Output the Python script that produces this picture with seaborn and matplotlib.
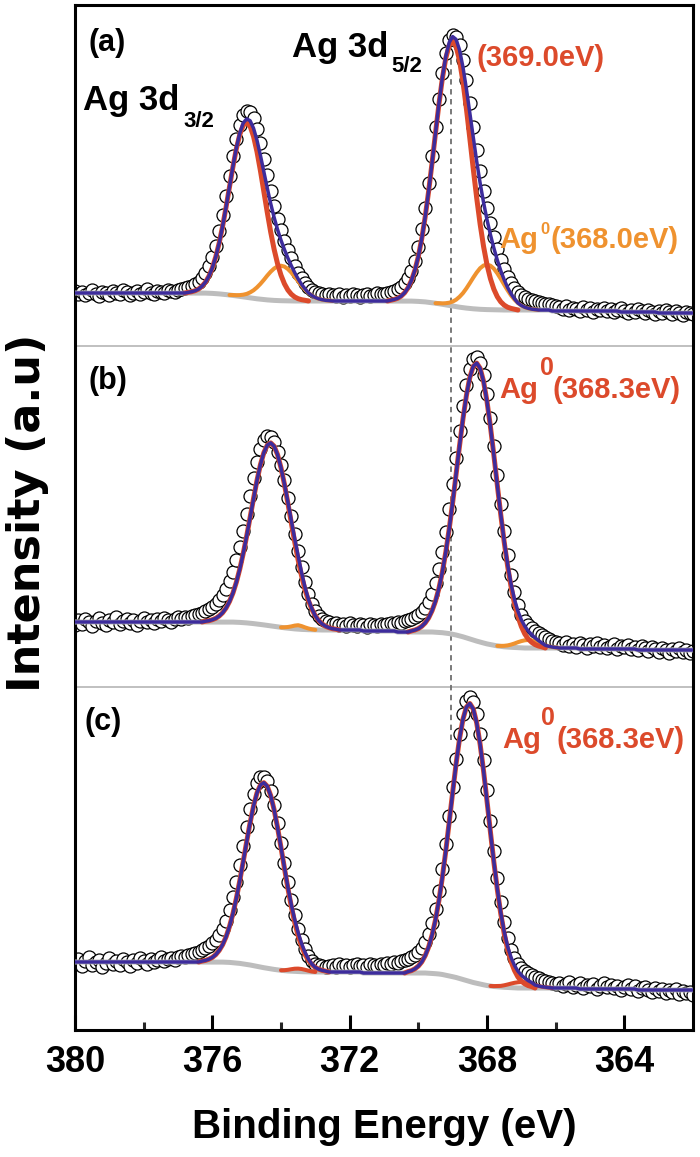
import numpy as np
import matplotlib
matplotlib.use("Agg")
import matplotlib.pyplot as plt
import seaborn as sns

# binding energy grid of the scan (0.1 eV steps)
energy = np.linspace(380.0, 362.0, 181)

# ---- panel (a) ----
bg_a = ([25] * 36
        + [25, 25, 24.9, 24.8, 24.6, 24.4, 24.1, 23.8, 23.4, 23, 22.6, 22.1, 21.6, 21.1,
           20.6, 20.1, 19.6, 19.2, 18.8, 18.4, 18.1, 17.8, 17.6, 17.4, 17.3, 17.2, 17.1, 17]
        + [17] * 33
        + [17, 16.9, 16.8, 16.6, 16.4, 16.1, 15.7, 15.3, 14.8, 14.3, 13.7, 13.1, 12.5, 11.9,
           11.3, 10.8, 10.3, 9.9, 9.5, 9.2, 8.9, 8.7, 8.5, 8.4, 8.3, 8.2, 8.1, 8]
        + [8] * 14 + [7] * 20 + [6] * 11 + [5] * 11)
red_a = ([0] * 33
         + [0.7, 1.3, 2.3, 4.0, 6.8, 10.9, 17.0, 25.5, 36.8, 51.0, 68.1, 87.5, 108.1, 128.6,
            147.2, 162.0, 171.7, 175, 171.7, 162.0, 147.2, 128.6, 108.1, 87.5, 68.1, 51.0,
            36.8, 25.5, 17.0, 10.9, 6.8, 4.0, 2.3, 1.3, 0.7]
         + [0] * 24
         + [0.8, 1.6, 2.8, 4.9, 8.2, 13.2, 20.6, 31.0, 44.9, 63.0, 85.1, 111.1, 139.9, 170.1,
            199.5, 225.9, 246.8, 260.3, 265, 260.3, 246.8, 225.9, 199.5, 170.1, 139.9, 111.1,
            85.1, 63.0, 44.9, 31.0, 20.6, 13.2, 8.2, 4.9, 2.8, 1.6, 0.8]
         + [0] * 52)
orange_a = ([0] * 46
            + [0.4, 0.7, 1.3, 2.2, 3.5, 5.5, 8.1, 11.4, 15.3, 19.7, 24.3, 28.5, 31.9, 34.2, 35,
               34.2, 31.9, 28.5, 24.3, 19.7, 15.3, 11.4, 8.1, 5.5, 3.5, 2.2, 1.3, 0.7, 0.4]
            + [0] * 31
            + [0.5, 0.9, 1.7, 2.8, 4.5, 7.0, 10.4, 14.6, 19.7, 25.4, 31.2, 36.6, 41.1, 44.0, 45,
               44.0, 41.1, 36.6, 31.2, 25.4, 19.7, 14.6, 10.4, 7.0, 4.5, 2.8, 1.7, 0.9, 0.5]
            + [0] * 46)
data_a = [27, 24, 26, 23, 25, 28, 24, 22, 26, 25, 23, 27, 25, 24, 28, 26, 23, 25, 27, 24,
          26, 29, 25, 24, 27, 26, 25, 28, 27, 26, 28,
          29, 30, 31, 32, 34, 36, 40, 45, 52, 61, 72, 87, 103, 122, 142, 162, 179, 193, 203, 207,
          206, 200, 189, 175, 159, 143, 127, 112, 99, 88, 77, 68, 60, 52, 45, 40, 35, 31, 28, 26,
          25, 24, 23, 24,
          23, 22, 24, 21, 23, 22, 24, 23, 21, 23, 24, 22, 23, 25, 24, 24, 25,
          26, 27, 29, 31, 35, 40, 47, 57, 71, 89, 110, 135, 162, 191, 219, 245, 265, 278, 283,
          281, 273, 258, 238, 215, 191, 168, 147, 127, 110, 95, 81, 69, 58, 49, 41, 35, 30, 26,
          23, 21, 19, 18, 17, 16, 15, 14, 14, 13, 12,
          11, 9, 12, 8, 10, 9, 7, 11, 8, 10, 6, 9, 8, 10, 7, 9, 6, 8, 10, 7,
          5, 8, 6, 9, 7, 5, 8, 6, 4, 7, 5, 8, 6, 4, 7, 5, 3, 6, 5, 4]

# ---- panel (b) ----
bg_b = ([33] * 44
        + [33, 33, 32.9, 32.8, 32.6, 32.4, 32.1, 31.8, 31.4, 31, 30.6, 30.1, 29.6, 29.1,
           28.6, 28.1, 27.6, 27.2, 26.8, 26.4, 26.1, 25.8, 25.6, 25.4, 25.3, 25.2, 25.1, 25]
        + [25] * 12 + [24] * 10 + [23] * 10
        + [23, 22.8, 22.6, 22.3, 21.9, 21.4, 20.7, 20, 19.1, 18.2, 17.1, 16.1, 15, 13.9,
           12.9, 12, 11.1, 10.4, 9.7, 9.1, 8.6, 8.2, 7.9, 7.7, 7.5, 7.4, 7.2, 7]
        + [7] * 15 + [6] * 17 + [5] * 17)
red_b = ([0] * 38
         + [0.8, 1.3, 2.3, 3.7, 6.0, 9.3, 14.0, 20.5, 29.0, 40.0, 53.4, 69.1, 86.8, 105.8,
            125.1, 143.5, 159.6, 172.2, 180.2, 183, 180.2, 172.2, 159.6, 143.5, 125.1, 105.8,
            86.8, 69.1, 53.4, 40.0, 29.0, 20.5, 14.0, 9.3, 6.0, 3.7, 2.3, 1.3, 0.8]
         + [0] * 21
         + [1.1, 2.0, 3.4, 5.7, 9.1, 14.1, 21.3, 31.1, 44.1, 60.7, 81.1, 105.0, 131.9, 160.8,
            190.1, 218.0, 242.4, 261.6, 273.8, 278, 273.8, 261.6, 242.4, 218.0, 190.1, 160.8,
            131.9, 105.0, 81.1, 60.7, 44.1, 31.1, 21.3, 14.1, 9.1, 5.7, 3.4, 2.0, 1.1]
         + [0] * 44)
orange_b = ([0] * 61
            + [0.5, 1.2, 2.2, 3.3, 4, 3.3, 2.2, 1.2, 0.5]
            + [0] * 54
            + [0.5, 1.0, 1.7, 2.7, 4.0, 5.4, 6.7, 7.7, 8, 7.7, 6.7, 5.4, 4.0, 2.7, 1.7, 1.0, 0.5]
            + [0] * 40)
data_b = [30, 35, 31, 36, 33, 29, 34, 37, 32, 30, 35, 33, 38, 31, 34, 36, 32, 35, 30, 34,
          37, 33, 35, 32, 36, 34, 37, 35, 33, 36, 38,
          36, 38, 37, 39, 40, 41, 42, 44, 46, 48, 51, 55, 60, 66, 74, 83, 95, 108, 124, 141,
          159, 177, 193, 206, 215, 219, 218,
          213, 203, 190, 175, 157, 139, 121, 104, 88, 73, 61, 51, 44, 39, 36, 34, 33, 31, 32,
          30, 31, 29, 32, 30, 29, 31, 30, 28, 31, 30, 29, 31, 30, 31, 32, 31, 33, 32, 34, 35,
          36, 38, 40, 43, 47, 53, 61, 72, 86, 103, 123, 146, 171, 197, 224, 249, 270, 286, 296,
          298,
          292, 280, 261, 237, 209, 180, 151, 124, 100, 80, 63, 50, 40, 34, 30, 27, 24, 22, 20,
          18, 16, 14, 13,
          12, 10, 13, 9, 11, 8, 12, 10, 7, 11, 9, 12, 8, 10, 7, 9, 11, 6, 9, 8,
          10, 6, 8, 5, 9, 7, 4, 8, 6, 3, 7, 5, 2, 6, 4, 7, 3, 5, 2, 4]

# ---- panel (c) ----
bg_c = ([33] * 42
        + [33, 32.9, 32.8, 32.6, 32.3, 32, 31.6, 31.1, 30.6, 30, 29.3, 28.7, 28, 27.3,
           26.7, 26.1, 25.6, 25.1, 24.7, 24.3, 24, 23.8, 23.6, 23.4, 23.3, 23.2, 23.1, 23]
        + [23] * 14 + [22] * 18
        + [22, 21.8, 21.7, 21.3, 21, 20.5, 19.8, 19.2, 18.3, 17.5, 16.5, 15.5, 14.5, 13.5,
           12.5, 11.7, 10.8, 10.2, 9.5, 9, 8.5, 8.2, 7.8, 7.7, 7.5, 7.3, 7.2, 7]
        + [7] * 17 + [6] * 17 + [5] * 17)
red_c = ([0] * 37
         + [0.9, 1.6, 2.8, 4.6, 7.4, 11.6, 17.4, 25.4, 35.9, 49.0, 64.7, 82.8, 102.5, 122.7,
            142.3, 159.6, 173.3, 182.0, 185, 182.0, 173.3, 159.6, 142.3, 122.7, 102.5, 82.8,
            64.7, 49.0, 35.9, 25.4, 17.4, 11.6, 7.4, 4.6, 2.8, 1.6, 0.9]
         + [0] * 23
         + [1.4, 2.4, 4.2, 6.9, 11.1, 17.4, 26.2, 38.2, 53.9, 73.6, 97.3, 124.4, 154.0, 184.5,
            213.8, 239.8, 260.3, 273.5, 278, 273.5, 260.3, 239.8, 213.8, 184.5, 154.0, 124.4,
            97.3, 73.6, 53.9, 38.2, 26.2, 17.4, 11.1, 6.9, 4.2, 2.4, 1.4]
         + [0] * 47)
minor_c = ([0] * 61
           + [0.5, 1.2, 2, 2.7, 3, 2.7, 2, 1.2, 0.5]
           + [0] * 52
           + [0.4, 0.8, 1.3, 2.0, 3.0, 4.1, 5.0, 5.7, 6, 5.7, 5.0, 4.1, 3.0, 2.0, 1.3, 0.8, 0.4]
           + [0] * 42)
data_c = [31, 36, 29, 34, 38, 30, 33, 35, 28, 32, 37, 31, 34, 30, 36, 33, 29, 35, 32, 37,
          34, 31, 36, 33, 35, 38, 34, 36, 37, 35, 38,
          39, 38, 40, 41, 42, 43, 45, 47, 49, 52, 55, 60, 66, 74, 85, 98, 113, 130, 149, 168,
          186, 201, 212, 218, 218,
          214, 204, 190, 172, 152, 132, 113, 95, 80, 66, 55, 46, 39, 34, 31, 30, 29, 28,
          29, 30, 28, 31, 29, 30, 28, 30, 31, 29, 30, 28, 31, 30, 29, 31, 30, 32, 31, 33, 32,
          34, 35,
          36, 38, 40, 43, 47, 53, 61, 72, 86, 104, 126, 151, 179, 208, 236, 261, 281, 294, 298,
          293, 281, 261, 235, 205, 174, 144, 117, 93, 73, 57, 45, 37, 31, 27, 24, 22, 20, 18,
          17, 15, 14, 13, 12, 11,
          12, 9, 11, 13, 8, 10, 12, 7, 10, 9, 11, 6, 9, 12, 8, 10, 7, 9, 5, 8,
          10, 6, 9, 4, 7, 8, 5, 3, 7, 4, 6, 2, 5, 3, 6, 1, 4, 2, 3, 0]

ref_energy = 369.05          # dashed guide line
tick_values = [380, 376, 372, 368, 364]
tick_labels = ["380", "376", "372", "368", "364"]

# ---- style ----
sns.set_theme(style="white")
plt.rcParams["font.family"] = ["Liberation Sans", "DejaVu Sans"]

RED = "#DC4A2B"
ORANGE = "#EF922F"
BLUE = "#3D2C9C"
GRAY = "#BDBDBD"

fig = plt.figure(figsize=(7, 11.57), dpi=100)
ax = fig.add_axes([75 / 700, 127 / 1157, 618 / 700, 1025 / 1157])


def draw_component(comp, bg, off, color, lw, z):
    # draw each peak of a component only where it is non-zero
    comp = np.asarray(comp, dtype=float)
    idx = np.flatnonzero(comp > 0)
    runs = np.split(idx, np.flatnonzero(np.diff(idx) > 1) + 1)
    for run in runs:
        lo, hi = max(run[0] - 1, 0), min(run[-1] + 2, len(comp))
        sns.lineplot(x=energy[lo:hi], y=(bg + comp)[lo:hi] + off, color=color,
                     linewidth=lw, zorder=z, ax=ax, sort=False)


panels = [
    (data_a, bg_a, red_a, orange_a, ORANGE, 712),
    (data_b, bg_b, red_b, orange_b, ORANGE, 375),
    (data_c, bg_c, red_c, minor_c, RED, 35),
]

for data, bg, red, minor, minor_color, off in panels:
    bg = np.array(bg, dtype=float)
    env = bg + np.array(red, dtype=float) + np.array(minor, dtype=float)
    sns.scatterplot(x=energy, y=np.array(data) + off, s=88, color="white",
                    edgecolor="black", linewidth=0.9, zorder=2, ax=ax, legend=False)
    sns.lineplot(x=energy, y=bg + off, color=GRAY, linewidth=3.6, zorder=3, ax=ax, sort=False)
    draw_component(minor, bg, off, minor_color, 2.9, 4)
    draw_component(red, bg, off, RED, 3.6, 5)
    sns.lineplot(x=energy, y=env + off, color=BLUE, linewidth=2.5, zorder=6, ax=ax, sort=False)

# panel separators and guide line
ax.axhline(684, color="#BBBBBB", linewidth=1.3, zorder=1)
ax.axhline(343, color="#BBBBBB", linewidth=1.3, zorder=1)
ax.vlines(ref_energy, 290, 990, colors="#6E6E6E", linestyles=(0, (3, 2.5)),
          linewidth=1.3, zorder=1)

ax.set_xlim(380, 362.0)
ax.set_ylim(0, 1025)
ax.set_yticks([])
ax.set_xticks(tick_values)
ax.set_xticklabels(tick_labels, fontweight="bold", fontsize=26)
ax.set_xticks([378, 374, 370, 366], minor=True)
ax.tick_params(axis="x", which="major", direction="in", length=11, width=2.2,
               bottom=True, top=False, pad=11, colors="black")
ax.tick_params(axis="x", which="minor", direction="in", length=6, width=2.2,
               bottom=True, top=False)
for sp in ax.spines.values():
    sp.set_color("black")
    sp.set_linewidth(2.2)

ax.set_xlabel("Binding Energy (eV)", fontweight="bold", fontsize=29, labelpad=20,
              color="black")
ax.set_ylabel("Intensity (a.u)", fontfamily="DejaVu Sans", fontweight="bold",
              fontsize=32, color="black")
ax.yaxis.set_label_coords(-0.042, 0.505)

# annotations
bold = dict(fontweight="bold", color="black")
ax.text(379.62, 1002, "(a)", fontsize=22, va="top", **bold)
ax.text(379.62, 664, "(b)", fontsize=22, va="top", **bold)
ax.text(379.71, 323, "(c)", fontsize=22, va="top", **bold)
ax.text(379.77, 920, "Ag 3d", fontsize=25, va="baseline", **bold)
ax.text(376.85, 903, "3/2", fontsize=16, va="baseline", **bold)
ax.text(373.69, 973, "Ag 3d", fontsize=25, va="baseline", **bold)
ax.text(370.80, 958, "5/2", fontsize=16, va="baseline", **bold)
ax.text(368.31, 964, "(369.0eV)", fontsize=21, va="baseline", fontweight="bold", color=RED)

ax.text(367.65, 782, "Ag", fontsize=21, va="baseline", fontweight="bold", color=ORANGE)
ax.text(366.45, 796, "0", fontsize=12, va="baseline", fontweight="bold", color=ORANGE)
ax.text(366.16, 782, "(368.0eV)", fontsize=21, va="baseline", fontweight="bold", color=ORANGE)

for y0, xs in [(632, (367.65, 366.45, 366.10)), (282, (367.56, 366.42, 365.99))]:
    ax.text(xs[0], y0, "Ag", fontsize=21, va="baseline", fontweight="bold", color=RED)
    ax.text(xs[1], y0 + 23, "0", fontsize=18, va="baseline", fontweight="bold", color=RED)
    ax.text(xs[2], y0, "(368.3eV)", fontsize=21, va="baseline", fontweight="bold", color=RED)

fig.savefig("out.png", dpi=100)
